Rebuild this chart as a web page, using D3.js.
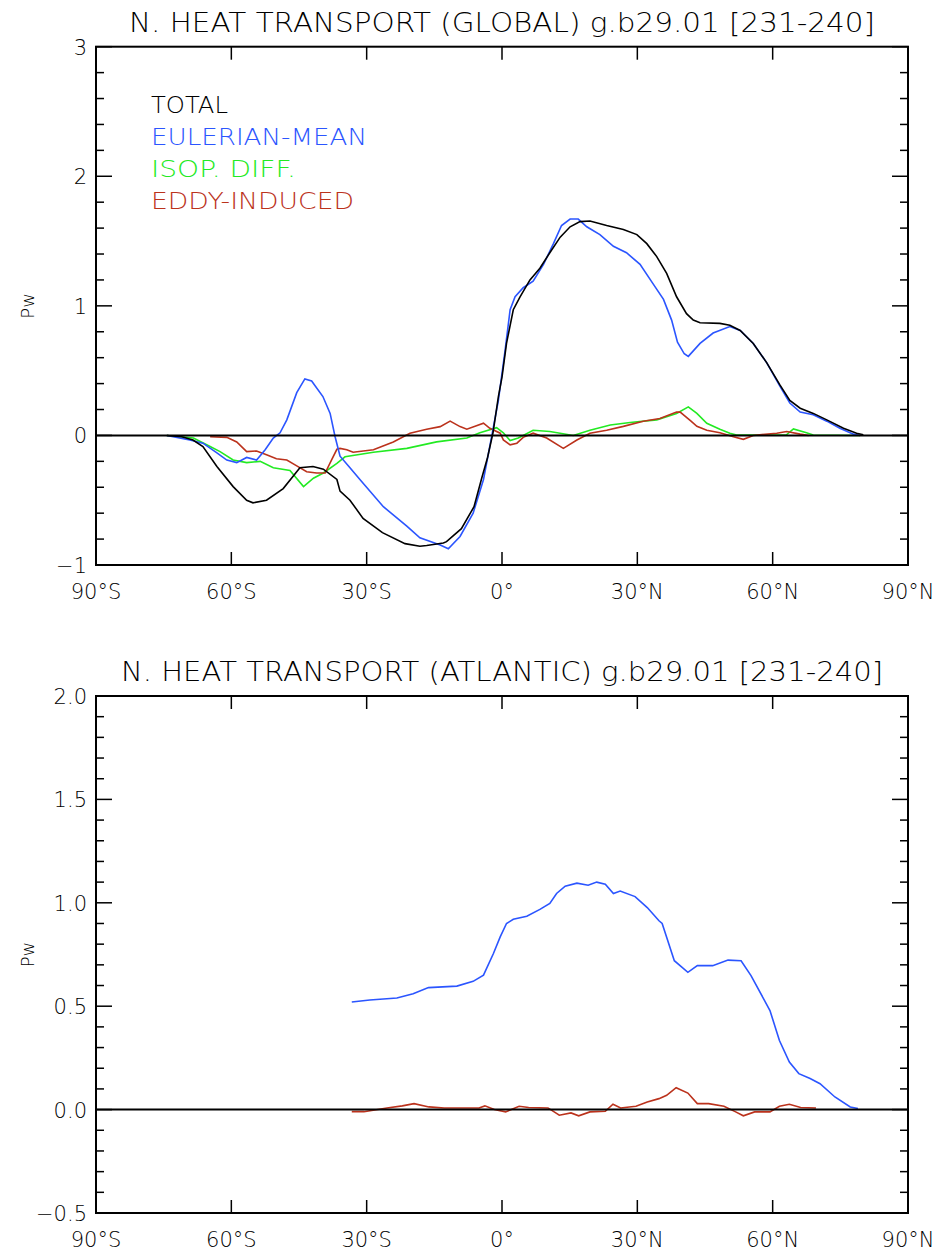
<!DOCTYPE html>
<html>
<head>
<meta charset="utf-8">
<script src="https://cdn.jsdelivr.net/npm/d3@7"></script>
<style>
  body { margin: 0; background: #fff; }
  text { font-family: "DejaVu Sans", "Liberation Sans", sans-serif; font-weight: 200; }
</style>
</head>
<body>
<svg id="chart" width="943" height="1252"></svg>
<script>
// latitude ticks shared by both panels
const latTicks = [-90, -60, -30, 0, 30, 60, 90];
const latLabels = ["90°S", "60°S", "30°S", "0°", "30°N", "60°N", "90°N"];

// global panel, [lat, PW]
const globalTotal = [[-74.3,0],[-71,-0.01],[-68.5,-0.035],[-66.3,-0.086],[-63.2,-0.24],[-59.6,-0.395],[-56.6,-0.5],[-55.2,-0.52],[-52.2,-0.5],[-48.5,-0.41],[-44.8,-0.25],[-41.9,-0.24],[-39.6,-0.26],[-36.6,-0.34],[-35.9,-0.43],[-33.7,-0.5],[-30.8,-0.64],[-26.5,-0.75],[-21.5,-0.835],[-18.2,-0.855],[-16.7,-0.85],[-13,-0.83],[-12.3,-0.82],[-9,-0.72],[-6.2,-0.55],[-4.5,-0.33],[-3.2,-0.17],[-2,0.02],[-0.8,0.3],[0,0.45],[1,0.71],[2.5,0.97],[4,1.07],[6.2,1.2],[8.4,1.29],[10.6,1.41],[12.9,1.53],[15.1,1.61],[17.3,1.65],[19.5,1.655],[23.2,1.62],[26.9,1.59],[29.9,1.55],[32.1,1.48],[34.3,1.38],[36.5,1.25],[38.7,1.07],[40.9,0.94],[42.4,0.89],[43.9,0.87],[48.3,0.865],[50.5,0.85],[52.8,0.81],[55.7,0.71],[58.7,0.56],[61.6,0.39],[63.8,0.27],[66.1,0.21],[69,0.17],[72,0.12],[75.7,0.055],[78.6,0.017],[80.1,0.005]];
const globalEuler = [[-74.3,0],[-69.2,-0.035],[-66.3,-0.06],[-63.2,-0.135],[-61,-0.19],[-58.8,-0.21],[-56.6,-0.17],[-54.4,-0.19],[-52.5,-0.11],[-50.7,-0.02],[-49.2,0.02],[-47.7,0.12],[-45.5,0.33],[-43.7,0.436],[-42.2,0.42],[-39.7,0.3],[-38.1,0.17],[-37,-0.01],[-35.9,-0.16],[-33.7,-0.25],[-31.5,-0.34],[-26.3,-0.55],[-21.1,-0.7],[-18.2,-0.79],[-13.7,-0.845],[-11.9,-0.875],[-9.3,-0.78],[-6.4,-0.6],[-4.1,-0.34],[-2.3,-0.01],[-0.8,0.27],[0.7,0.66],[1.8,0.97],[2.9,1.07],[4.7,1.14],[6.9,1.19],[9.2,1.32],[11.4,1.48],[13.2,1.62],[15.1,1.67],[16.9,1.67],[18.8,1.61],[21.7,1.55],[24.7,1.46],[27.6,1.41],[30.6,1.32],[33.5,1.17],[35.8,1.05],[37.6,0.89],[38.9,0.72],[40.4,0.63],[41.3,0.61],[43.9,0.71],[46.8,0.79],[50.5,0.84],[52.8,0.81],[55.7,0.71],[58.7,0.56],[61.6,0.38],[63.8,0.25],[66.1,0.18],[69,0.16],[72,0.11],[74.9,0.055],[77.9,0.01],[79.4,0]];
const globalIsop = [[-74.3,0],[-68.4,-0.02],[-64.7,-0.086],[-62.5,-0.125],[-59.6,-0.19],[-56.6,-0.21],[-53.6,-0.2],[-50.7,-0.25],[-47,-0.27],[-44,-0.395],[-41.8,-0.33],[-39.6,-0.29],[-36.6,-0.215],[-34.8,-0.165],[-28.5,-0.13],[-21.1,-0.1],[-14.5,-0.05],[-7.8,-0.02],[-4.9,0.02],[-1.2,0.06],[0.3,0.02],[1.8,-0.04],[3.6,-0.02],[4.7,0],[6.9,0.04],[10.6,0.03],[15.8,0],[19.5,0.04],[24,0.08],[28.4,0.1],[34.3,0.12],[38.7,0.17],[41.3,0.22],[43.2,0.17],[45.4,0.094],[48.3,0.048],[50.5,0.017],[52,0.003],[63,0.003],[64.6,0.05],[67.5,0.02],[69,0.003],[79.4,0]];
const globalEddy = [[-64.7,-0.01],[-61,-0.015],[-58.8,-0.05],[-56.6,-0.125],[-54.4,-0.12],[-52.2,-0.15],[-50,-0.18],[-47.7,-0.19],[-45.5,-0.235],[-43.3,-0.28],[-41.1,-0.29],[-39.2,-0.29],[-37.8,-0.19],[-36.6,-0.107],[-35.9,-0.1],[-34.4,-0.11],[-33,-0.13],[-28.5,-0.11],[-24.1,-0.05],[-20.4,0.017],[-16.7,0.048],[-13.7,0.068],[-11.5,0.11],[-9.3,0.068],[-7.8,0.048],[-4.1,0.094],[-2.7,0.055],[-0.4,0.017],[0.3,-0.035],[1.8,-0.073],[3.3,-0.06],[4.7,-0.015],[6.9,0.017],[9.9,-0.02],[13.6,-0.1],[16.6,-0.035],[19.5,0.017],[23.2,0.04],[26.9,0.07],[31.3,0.11],[35,0.13],[38.7,0.18],[39.5,0.18],[41.9,0.11],[43.2,0.07],[45.4,0.04],[48.3,0.02],[51.3,-0.01],[53.5,-0.03],[55.7,0],[60.9,0.017],[63.1,0.03],[66.1,0.01],[68,0]];

// atlantic panel
const atlEuler = [[-33.3,0.52],[-29.3,0.53],[-23.3,0.54],[-19.7,0.56],[-16.3,0.59],[-10,0.597],[-6.4,0.62],[-4.1,0.65],[-1.9,0.755],[-0.4,0.835],[1,0.9],[2.5,0.92],[5.5,0.935],[8.4,0.968],[10.6,0.997],[12.1,1.045],[14,1.08],[16.6,1.095],[19.1,1.085],[21,1.1],[22.9,1.09],[24.7,1.045],[26.2,1.057],[29.5,1.03],[32.2,0.977],[34.8,0.913],[35.5,0.9],[38.2,0.72],[41.2,0.664],[43.3,0.696],[46.7,0.696],[50.1,0.723],[53,0.72],[55.2,0.648],[59.4,0.479],[61.5,0.334],[63.7,0.23],[65.8,0.174],[68.3,0.15],[70.5,0.125],[73.8,0.061],[77.2,0.013],[78.9,0.005]];
const atlEddy = [[-33.3,-0.01],[-30.6,-0.01],[-25.5,0.008],[-22.1,0.018],[-19.5,0.029],[-16.2,0.013],[-12.8,0.008],[-5.1,0.008],[-3.8,0.018],[-1.7,0],[0.8,-0.011],[3.8,0.016],[5.9,0.01],[10.2,0.008],[12.7,-0.027],[15.3,-0.016],[17,-0.03],[19.5,-0.011],[22.9,-0.008],[24.6,0.026],[26.3,0.008],[29.7,0.016],[32.2,0.037],[34.8,0.053],[36.5,0.069],[38.6,0.106],[41.2,0.08],[43.3,0.029],[45.8,0.029],[49.2,0.016],[51.8,-0.011],[53.5,-0.03],[56,-0.011],[59.4,-0.011],[61.5,0.016],[63.7,0.026],[66.2,0.01],[69.6,0.008]];

const legendNames = ["TOTAL", "EULERIAN-MEAN", "ISOP. DIFF.", "EDDY-INDUCED"];
const legendWidths = [77, 216, 145, 203];
const colors = ["#000000", "#2b55ff", "#22ea22", "#bb321c"];

const svg = d3.select("#chart");
svg.append("rect").attr("width", 943).attr("height", 1252).attr("fill", "#fff");

const left = 96, right = 908;
const x = d3.scaleLinear().domain([-90, 90]).range([left, right]);

function drawPanel(p) {
    const y = d3.scaleLinear().domain(p.yDomain).range([p.bottom, p.top]);
    const g = svg.append("g");

    // curves
    const line = d3.line().x(d => x(d[0])).y(d => y(d[1]));
    p.series.forEach(s => {
        g.append("path")
            .attr("d", line(s.data))
            .attr("fill", "none")
            .attr("stroke", s.color)
            .attr("stroke-width", 1.6);
    });

    // zero line
    g.append("line")
        .attr("x1", left).attr("x2", right)
        .attr("y1", y(0)).attr("y2", y(0))
        .attr("stroke", "#000").attr("stroke-width", 2);

    // y ticks, both sides, inward
    const minor = d3.range(p.yDomain[0], p.yDomain[1] + 1e-9, p.minorStep);
    minor.forEach(v => {
        const isMajor = Math.abs(v / p.majorStep - Math.round(v / p.majorStep)) < 1e-6;
        const len = isMajor ? 16 : 8;
        g.append("line").attr("x1", left).attr("x2", left + len)
            .attr("y1", y(v)).attr("y2", y(v)).attr("stroke", "#000").attr("stroke-width", 1.5);
        g.append("line").attr("x1", right).attr("x2", right - len)
            .attr("y1", y(v)).attr("y2", y(v)).attr("stroke", "#000").attr("stroke-width", 1.5);
    });
    const major = d3.range(p.yDomain[0], p.yDomain[1] + 1e-9, p.majorStep);
    g.selectAll(".ylab").data(major).enter().append("text")
        .attr("x", left - 9)
        .attr("y", d => y(d) + 8)
        .attr("text-anchor", "end")
        .attr("font-size", 21)
        .text(d => d3.format(p.yFormat)(d));

    // x ticks top & bottom
    latTicks.forEach((t, i) => {
        g.append("line").attr("x1", x(t)).attr("x2", x(t))
            .attr("y1", p.bottom).attr("y2", p.bottom - 13).attr("stroke", "#000").attr("stroke-width", 1.5);
        g.append("line").attr("x1", x(t)).attr("x2", x(t))
            .attr("y1", p.top).attr("y2", p.top + 13).attr("stroke", "#000").attr("stroke-width", 1.5);
        g.append("text")
            .attr("x", x(t)).attr("y", p.bottom + 34)
            .attr("text-anchor", "middle")
            .attr("font-size", 21)
            .text(latLabels[i]);
    });

    // frame
    g.append("rect")
        .attr("x", left).attr("y", p.top)
        .attr("width", right - left).attr("height", p.bottom - p.top)
        .attr("fill", "none").attr("stroke", "#000").attr("stroke-width", 2);

    // title and y label
    g.append("text")
        .attr("x", (left + right) / 2).attr("y", p.top - 15)
        .attr("text-anchor", "middle")
        .attr("font-size", 27)
        .attr("textLength", p.titleWidth).attr("lengthAdjust", "spacingAndGlyphs")
        .text(p.title);
    g.append("text")
        .attr("transform", `translate(34,${(p.top + p.bottom) / 2}) rotate(-90)`)
        .attr("text-anchor", "middle")
        .attr("font-size", 18)
        .text("Pw");

    if (p.legend) {
        p.legend.forEach((name, i) => {
            g.append("text")
                .attr("x", 151).attr("y", 113 + i * 32)
                .attr("font-size", 23)
                .attr("textLength", legendWidths[i]).attr("lengthAdjust", "spacingAndGlyphs")
                .attr("fill", colors[i])
                .text(name);
        });
    }
}

drawPanel({
    top: 46.7, bottom: 565, yDomain: [-1, 3], majorStep: 1, minorStep: 0.2, yFormat: "d",
    title: "N. HEAT TRANSPORT (GLOBAL) g.b29.01 [231-240]", titleWidth: 746,
    series: [
        { data: globalIsop, color: colors[2] },
        { data: globalEddy, color: colors[3] },
        { data: globalEuler, color: colors[1] },
        { data: globalTotal, color: colors[0] }
    ],
    legend: legendNames
});

drawPanel({
    top: 696, bottom: 1213, yDomain: [-0.5, 2.0], majorStep: 0.5, minorStep: 0.1, yFormat: ".1f",
    title: "N. HEAT TRANSPORT (ATLANTIC) g.b29.01 [231-240]", titleWidth: 762,
    series: [
        { data: atlEddy, color: colors[3] },
        { data: atlEuler, color: colors[1] }
    ]
});
</script>
</body>
</html>
